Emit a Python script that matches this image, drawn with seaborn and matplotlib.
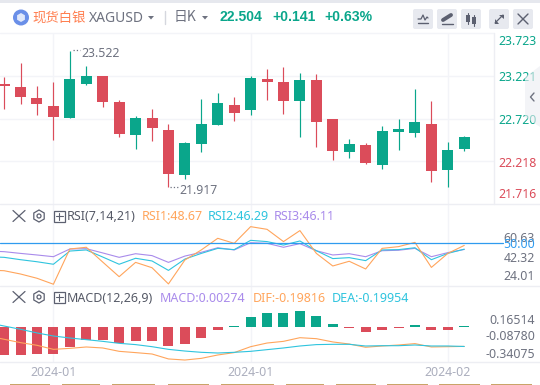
# -*- coding: utf-8 -*-
"""
XAGUSD daily candles with RSI and MACD panes
"""

#%% ###################################################
import numpy as np
import pandas as pd
import matplotlib.pyplot as plt
from matplotlib.patches import Circle, FancyBboxPatch, Polygon, Rectangle, RegularPolygon
import seaborn as sns

#%% Values:
open_px  = [23.129,23.094,22.964,22.870,22.728,23.129,23.223,22.917,22.528,22.728,22.587,22.057,22.422,22.646,22.882,22.823,
            23.188,23.152,22.929,23.176,22.717,22.328,22.410,22.175,22.564,22.552,22.658,22.116,22.363]
close_px = [23.109,22.976,22.893,22.740,23.188,23.223,22.917,22.540,22.728,22.611,22.069,22.434,22.658,22.905,22.787,23.200,
            23.152,22.929,23.176,22.681,22.340,22.422,22.198,22.575,22.599,22.681,22.104,22.351,22.504]
high_px  = [23.211,23.376,23.105,23.152,23.522,23.341,23.223,22.940,22.752,22.834,22.658,22.442,22.952,23.023,22.976,23.223,
            23.306,23.329,23.258,23.247,22.717,22.481,22.434,22.634,22.717,23.070,22.929,22.446,22.516]
low_px   = [22.834,22.893,22.764,22.469,22.728,23.117,22.858,22.505,22.363,22.457,21.917,22.010,22.328,22.646,22.693,22.764,
            22.940,22.776,22.505,22.387,22.234,22.257,22.187,22.128,22.351,22.505,21.975,21.920,22.340]

# first entry of the indicator lines is the session left of the window
rsi1 = [33.0,32.6,30.5,27.8,24.0,46.4,47.5,38.1,28.8,37.9,34.5,24.2,39.4,45.8,53.2,50.0,60.6,58.9,51.1,58.1,43.6,35.6,38.6,
        33.7,46.8,47.9,50.6,34.7,43.6,48.67]
rsi2 = [41.5,41.1,39.6,38.3,36.7,45.1,45.8,41.3,36.7,40.5,38.8,32.8,40.0,43.6,46.8,46.0,51.9,51.1,48.9,51.5,45.3,40.3,40.9,
        39.0,45.8,46.0,47.2,39.6,43.6,46.29]
rsi3 = [45.1,44.7,43.6,42.6,41.5,46.4,46.6,43.9,41.1,43.4,42.2,37.9,41.9,44.3,47.2,45.8,50.4,50.0,47.5,49.8,45.3,42.6,43.4,
        41.5,45.3,45.6,46.8,41.5,44.1,46.11]

macd_hist = [-0.285,-0.285,-0.275,-0.275,-0.204,-0.133,-0.133,-0.164,-0.143,-0.143,-0.194,-0.174,-0.113,-0.032,0.008,0.099,
             0.140,0.140,0.165,0.110,0.029,-0.012,-0.052,-0.032,-0.012,0.019,-0.032,-0.032,0.008]
dif = [-0.093,-0.126,-0.160,-0.187,-0.228,-0.218,-0.204,-0.214,-0.248,-0.261,-0.275,-0.325,-0.336,-0.319,-0.285,-0.261,-0.201,
       -0.164,-0.147,-0.110,-0.120,-0.153,-0.174,-0.207,-0.194,-0.184,-0.170,-0.204,-0.201,-0.198]
dea = [0.042,0.008,-0.025,-0.062,-0.093,-0.113,-0.130,-0.147,-0.167,-0.180,-0.201,-0.228,-0.245,-0.258,-0.265,-0.258,-0.248,
       -0.231,-0.214,-0.194,-0.180,-0.177,-0.177,-0.194,-0.191,-0.191,-0.184,-0.194,-0.194,-0.199]

price_ticks  = ['23.723','23.221','22.720','22.218','21.716']
price_grid   = [23.221,22.720,22.218]
date_labels  = ['2024-01','2024-01','2024-02']
date_index   = [3,15,27]

#%% Colors and figure:
clr_up, clr_dn = '#0AA68B', '#DB4C5A'
clr_rsi1, clr_rsi2, clr_rsi3 = '#FFA55C', '#2FC4DE', '#A98BEB'
clr_grid, clr_sep, clr_text, clr_date = '#F3F4F8', '#EDEEF3', '#6E7280', '#ABAEBD'
W, H = 540, 385

sns.set_theme(style='white')
plt.rcParams['font.family'] = ['Noto Sans', 'Noto Sans CJK SC', 'DejaVu Sans']
fig = plt.figure(figsize=(W/100,H/100),dpi=100)

def pane(top,bottom,left=0,right=494):
    ax = fig.add_axes([left/W,1-bottom/H,(right-left)/W,(bottom-top)/H])
    ax.set_axis_off()
    return ax

ax_k    = pane(33,204)
ax_rsi  = pane(204,286)
ax_macd = pane(286,362.3)

idx      = np.arange(len(close_px))
idx_line = np.arange(len(rsi1))-1
df = pd.DataFrame({'i':idx,'open':open_px,'close':close_px,'high':high_px,'low':low_px,'hist':macd_hist})
df['up']     = df['close']>=df['open']
df['bottom'] = df[['open','close']].min(axis=1)
df['height'] = (df['open']-df['close']).abs()

#%% Candles:
for up,clr in zip([True,False],[clr_up,clr_dn]):
    sub = df[df['up']==up]
    ax_k.vlines(sub['i'],sub['low'],sub['high'],color=clr,lw=0.85)
    sns.barplot(x=sub['i'].values,y=sub['height'].values,bottom=sub['bottom'].values,native_scale=True,color=clr,
                saturation=1,width=0.67,errorbar=None,linewidth=0,ax=ax_k,zorder=3)

#%% RSI lines:
for vals,clr in zip([rsi3,rsi2,rsi1],[clr_rsi3,clr_rsi2,clr_rsi1]):
    sns.lineplot(x=idx_line,y=vals,color=clr,lw=0.8,errorbar=None,ax=ax_rsi,zorder=3)
ax_rsi.plot([-0.262,30.35],[50,50],color='#2F9BEF',lw=0.9,clip_on=False,zorder=4)

#%% MACD histogram and lines:
for pos,clr in zip([True,False],[clr_up,clr_dn]):
    sub = df[(df['hist']>0)==pos]
    sns.barplot(x=sub['i'].values,y=sub['hist'].values,native_scale=True,color=clr,saturation=1,width=0.61,
                errorbar=None,linewidth=0,ax=ax_macd,zorder=2)
sns.lineplot(x=idx_line,y=dif,color=clr_rsi1,lw=0.8,errorbar=None,ax=ax_macd,zorder=3)
sns.lineplot(x=idx_line,y=dea,color=clr_rsi2,lw=0.8,errorbar=None,ax=ax_macd,zorder=4)

#%% Limits and grid:
ax_k.set_ylim(21.715,23.729)
ax_rsi.set_ylim(22.88,75)
ax_macd.set_ylim(-0.359,0.413)
for ax in [ax_k,ax_rsi,ax_macd]:
    ax.set_xlim(-0.25,29.81)
    ax.set_axis_off()
    for i in date_index:
        ax.axvline(i,color=clr_grid,lw=1,zorder=0)
for val in price_grid:
    ax_k.axhline(val,color=clr_grid,lw=1,zorder=0)

#%% Overlay in pixel coordinates for header, labels and icons:
ov = fig.add_axes([0,0,1,1],facecolor='none')
ov.set_xlim(0,W)
ov.set_ylim(H,0)
ov.set_axis_off()

def txt(x,y,s,clr=clr_text,size=8.85,ha='left',**kw):
    ov.text(x,y,s,color=clr,fontsize=size,ha=ha,va='center',**kw)

# separators
ov.add_patch(Rectangle((0,0),W,2.5,color='#E6E8EE',lw=0))
ov.plot([0,494],[33,33],color=clr_grid,lw=1)
ov.plot([494,494],[33,204],color=clr_sep,lw=1)
for y in [204,286,362.3]:
    ov.plot([0,W],[y,y],color=clr_sep,lw=1)

# header
ov.add_patch(Circle((21,17.5),8,color='#6A8FE8',lw=0))
ov.add_patch(RegularPolygon((21,17.5),6,radius=4.5,color='white',alpha=0.8,lw=0))
txt(32,17.2,'现货白银',clr='#FF7F50',size=9.6,family=['Noto Sans CJK SC','DejaVu Sans'])
txt(89,18.3,'XAGUSD',size=10)
ov.add_patch(Polygon([[148,16],[154,16],[151,19.5]],color=clr_text,lw=0))
ov.plot([164.5,164.5],[11,24],color='#D5D7DE',lw=1)
txt(174,16.5,'日K',size=10,family=['Noto Sans CJK SC','DejaVu Sans'])
ov.add_patch(Polygon([[202,16],[208,16],[205,19.5]],color=clr_text,lw=0))
txt(219.5,17.3,'22.504',clr=clr_up,size=10.1,weight='bold',family=['Liberation Sans'])
txt(272,17.3,'+0.141',clr=clr_up,size=10.1,weight='bold',family=['Liberation Sans'])
txt(324.5,17.3,'+0.63%',clr=clr_up,size=10.1,weight='bold',family=['Liberation Sans'])

# buttons
for x in [413,437,461,489,513]:
    ov.add_patch(FancyBboxPatch((x+2,11),16,16,boxstyle='round,pad=2',color='#E7E9EF',lw=0))
clr_icon = '#5C6070'
ov.plot([418,421,423,425,427,428],[19,19,15,20,17,18],color=clr_icon,lw=0.9)
ov.plot([418,428],[23,23],color=clr_icon,lw=1)
ov.plot([443,451],[20,15],color=clr_icon,lw=2.8)
ov.plot([442,453],[23.5,23.5],color=clr_icon,lw=1)
ov.add_patch(Rectangle((466,15),4,7,color=clr_icon,lw=0))
ov.add_patch(Rectangle((472,17),4,7,color=clr_icon,lw=0))
ov.plot([468,468],[13,24],color=clr_icon,lw=0.8)
ov.plot([474,474],[15,26],color=clr_icon,lw=0.8)
ov.plot([495,503],[23,15],color=clr_icon,lw=0.9)
ov.add_patch(Polygon([[499,14.5],[503.5,14.5],[503.5,19]],color=clr_icon,lw=0))
ov.add_patch(Polygon([[494.5,19],[494.5,23.5],[499,23.5]],color=clr_icon,lw=0))
ov.plot([518,528],[14,24],color=clr_icon,lw=1)
ov.plot([528,518],[14,24],color=clr_icon,lw=1)

# price axis
for label,y,clr in zip(price_ticks,[41.5,77.5,120.5,163.5,195],[clr_up,clr_up,clr_up,clr_dn,clr_dn]):
    txt(498,y,label,clr=clr)
ov.add_patch(Polygon([[540,66],[525,77],[525,117],[540,127]],color='#ECEDF2',alpha=0.6,lw=0,zorder=5))
ov.plot([534,530.5,534],[93,97,101],color=clr_text,lw=1,zorder=6)

# high and low markers
ov.plot([73,80],[49.5,49.5],color=clr_text,lw=0.9,ls=':')
txt(81.5,53.2,'23.522')
ov.plot([170,178],[186.5,186.5],color=clr_text,lw=0.9,ls=':')
txt(179.5,190.2,'21.917')

# indicator titles
for y in [216,297]:
    ov.plot([13,25],[y-5.5,y+5.5],color=clr_icon,lw=0.9)
    ov.plot([25,13],[y-5.5,y+5.5],color=clr_icon,lw=0.9)
    ov.add_patch(RegularPolygon((39,y),6,radius=6,fill=False,ec=clr_icon,lw=0.9))
    ov.add_patch(Circle((39,y),2,fill=False,ec=clr_icon,lw=0.9))
    ov.add_patch(Rectangle((53.5,y-5.5),11,11,fill=False,ec=clr_icon,lw=0.9))
    ov.plot([55.5,62.5],[y,y],color=clr_icon,lw=0.8)
    ov.plot([59,59],[y-3.5,y+3.5],color=clr_icon,lw=0.8)
txt(67,216.8,'RSI(7,14,21)',clr='#555966',size=9)
txt(141.5,216.8,'RSI1:48.67',clr=clr_rsi1,size=9)
txt(208,216.8,'RSI2:46.29',clr=clr_rsi2,size=9)
txt(274,216.8,'RSI3:46.11',clr=clr_rsi3,size=9)
txt(67,298,'MACD(12,26,9)',clr='#555966',size=9)
txt(160,298,'MACD:0.00274',clr=clr_rsi3,size=9)
txt(253,298,'DIF:-0.19816',clr=clr_rsi1,size=9)
txt(332,298,'DEA:-0.19954',clr=clr_rsi2,size=9)

# indicator axes
txt(535,238,'60.63',ha='right')
txt(535,245,'50.00',clr='#2F9BEF',ha='right')
txt(535,259,'42.32',ha='right')
txt(535,277,'24.01',ha='right')
txt(535,320,'0.16514',ha='right')
txt(535,337,'-0.08780',ha='right')
txt(535,354,'-0.34075',ha='right')

# dates
for i,label in zip(date_index,date_labels):
    txt(4.3+16.43*i,372.2,label,clr=clr_date,ha='center')

# clipped strip at the very bottom
for x0,x1 in zip([10,62,112,168,221,286,336,387,439,491],[50,100,155,209,274,324,376,428,480,532]):
    ov.add_patch(Rectangle((x0,384),x1-x0,1,color='#C9A468',lw=0))

plt.savefig('out.png',dpi=100)
